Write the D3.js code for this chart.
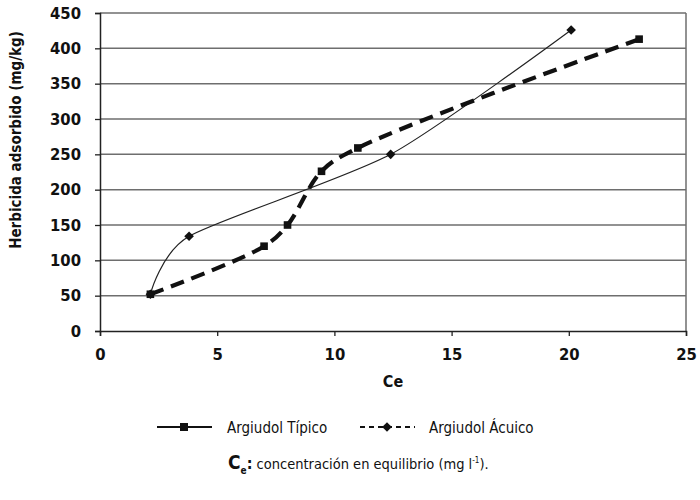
<!DOCTYPE html>
<html><head><meta charset="utf-8">
<script src="https://cdn.jsdelivr.net/npm/d3@7"></script>
<style>
body{margin:0;background:#fff}
svg{display:block}
text{font-family:"DejaVu Sans Condensed","DejaVu Sans",sans-serif;font-stretch:condensed;fill:#111}
</style>
</head><body>
<svg id="c" width="700" height="500"></svg>
<script>
// ---- data ----
const xTicks = [0, 5, 10, 15, 20, 25];
const yTicks = [0, 50, 100, 150, 200, 250, 300, 350, 400, 450];
// thin solid series (diamond markers)
const thinX = [2.15, 3.8, 12.4, 20.1];
const thinY = [52, 134, 250, 426];
// thick dashed series (square markers)
const dashX = [2.15, 7, 8, 9.45, 11, 23];
const dashY = [52, 120, 150, 226, 259, 413];
const legendLabels = ["Argiudol Típico", "Argiudol Ácuico"];
const xTitle = "Ce";
const yTitle = "Herbicida adsorbido (mg/kg)";

// ---- layout ----
const svg = d3.select("#c");
const L = 100, R = 686, T = 13, B = 331;
const x = d3.scaleLinear().domain([0, 25]).range([L, R]);
const y = d3.scaleLinear().domain([0, 450]).range([B, T]);

// gridlines
svg.append("g").selectAll("line").data(yTicks.filter(d => d > 0)).join("line")
  .attr("x1", L).attr("x2", R).attr("y1", d => y(d)).attr("y2", d => y(d))
  .attr("stroke", "#6e6e6e").attr("stroke-width", 1.5);
// right border
svg.append("line").attr("x1", R).attr("x2", R).attr("y1", T).attr("y2", B)
  .attr("stroke", "#6e6e6e").attr("stroke-width", 1.5);

// axes
const yAxis = d3.axisLeft(y).tickValues(yTicks).tickSize(5).tickPadding(14).tickFormat(d3.format("d"));
const xAxis = d3.axisBottom(x).tickValues(xTicks).tickSize(5).tickPadding(12).tickFormat(d3.format("d"));
const gy = svg.append("g").attr("transform", `translate(${L},0)`).call(yAxis);
const gx = svg.append("g").attr("transform", `translate(0,${B})`).call(xAxis);
[gy, gx].forEach(g => {
  g.selectAll("path.domain").attr("stroke", "#222").attr("stroke-width", 1.5);
  g.selectAll(".tick line").attr("stroke", "#222").attr("stroke-width", 1.3);
  g.selectAll(".tick text").attr("font-size", 16.5).attr("font-weight", "bold")
    .attr("font-family", null).attr("fill", "#111");
});

// axis titles
svg.append("text").attr("x", (L + R) / 2).attr("y", 387).attr("text-anchor", "middle")
  .attr("font-size", 16).attr("font-weight", "bold").text(xTitle);
svg.append("text").attr("transform", "translate(21,140) rotate(-90)").attr("text-anchor", "middle")
  .attr("font-size", 15).attr("font-weight", "bold").text(yTitle);

// lines
const thinPts = thinX.map((d, i) => [d, thinY[i]]);
const dashPts = dashX.map((d, i) => [d, dashY[i]]);
const thinLine = d3.line().x(d => x(d[0])).y(d => y(d[1])).curve(d3.curveCardinal.tension(0.3));
const dashLine = d3.line().x(d => x(d[0])).y(d => y(d[1])).curve(d3.curveCatmullRom.alpha(0.5));

svg.append("path").datum(thinPts).attr("d", thinLine).attr("fill", "none")
  .attr("stroke", "#222").attr("stroke-width", 1.2);
svg.append("path").datum(dashPts).attr("d", dashLine).attr("fill", "none")
  .attr("stroke", "#111").attr("stroke-width", 4.2).attr("stroke-dasharray", "14,8");

const diamondPath = "M0,-4.8L4.8,0L0,4.8L-4.8,0Z";
svg.append("g").selectAll("path").data(thinPts).join("path")
  .attr("d", diamondPath)
  .attr("transform", d => `translate(${x(d[0])},${y(d[1])})`).attr("fill", "#111");
svg.append("g").selectAll("rect").data(dashPts).join("rect")
  .attr("x", d => x(d[0]) - 3.8).attr("y", d => y(d[1]) - 3.8).attr("width", 7.6).attr("height", 7.6)
  .attr("fill", "#111");

// legend
const lg = svg.append("g");
const ly = 427;
lg.append("line").attr("x1", 157).attr("x2", 212).attr("y1", ly).attr("y2", ly)
  .attr("stroke", "#111").attr("stroke-width", 2);
lg.append("rect").attr("x", 180).attr("y", ly - 4).attr("width", 8).attr("height", 8).attr("fill", "#111");
lg.append("text").attr("x", 227).attr("y", ly + 6).attr("font-size", 15).text(legendLabels[0]);

lg.append("line").attr("x1", 360).attr("x2", 415).attr("y1", ly).attr("y2", ly)
  .attr("stroke", "#111").attr("stroke-width", 1.8).attr("stroke-dasharray", "5,4");
lg.append("path").attr("d", diamondPath).attr("transform", `translate(387,${ly})`).attr("fill", "#111");
lg.append("text").attr("x", 429).attr("y", ly + 6).attr("font-size", 15).text(legendLabels[1]);

// footnote
const fn = svg.append("text").attr("x", 228).attr("y", 469).attr("font-size", 14.5);
fn.append("tspan").attr("font-weight", "bold").attr("font-size", 19).text("C");
fn.append("tspan").attr("font-weight", "bold").attr("font-size", 10).attr("dy", 5).text("e");
fn.append("tspan").attr("font-weight", "bold").attr("font-size", 16).attr("dy", -5).text(":");
fn.append("tspan").text(" concentración en equilibrio (mg l");
fn.append("tspan").attr("font-size", 8).attr("dy", -6).text("-1");
fn.append("tspan").attr("dy", 6).text(").");
</script>
</body></html>
